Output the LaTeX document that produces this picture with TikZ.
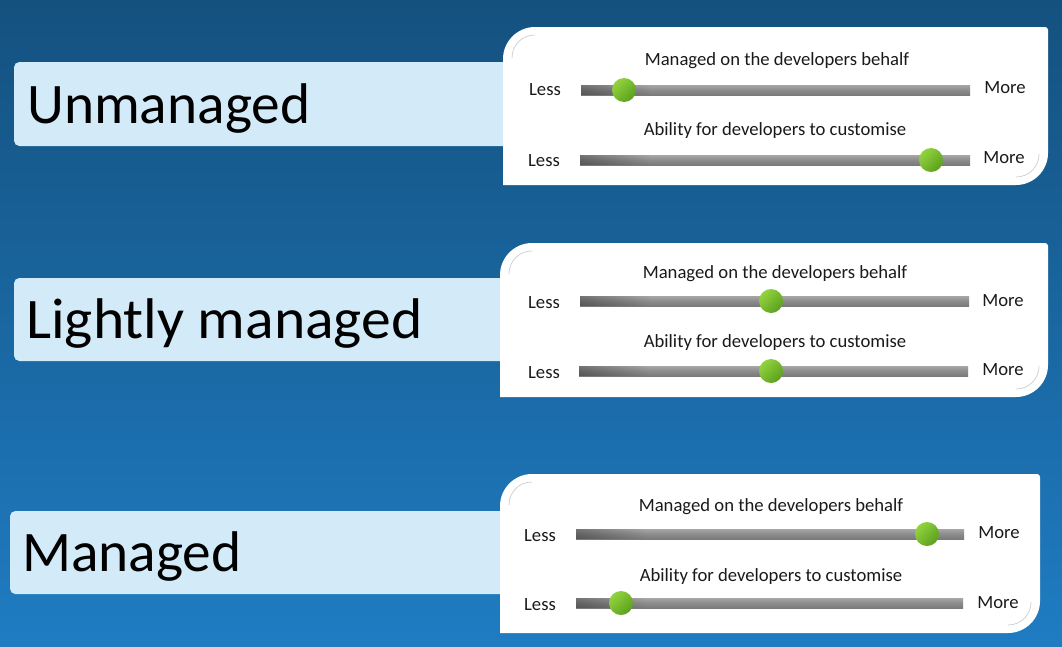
\documentclass[tikz,border=0pt]{standalone}
\usepackage{fontspec}
\setmainfont{Carlito}
\usetikzlibrary{fadings}
\definecolor{bgtop}{HTML}{14517F}
\definecolor{bgbot}{HTML}{1F7CC2}
\definecolor{boxblue}{HTML}{D3EBF8}
\definecolor{barlight}{HTML}{A6A6A6}
\definecolor{barmid}{HTML}{8C8C8C}
\definecolor{bardark}{HTML}{7A7A7A}
\definecolor{knoblight}{HTML}{92D43E}
\definecolor{knobdark}{HTML}{5C9F1E}
\definecolor{arcgray}{HTML}{C5CDD6}
\definecolor{txt}{HTML}{1A1A1A}
\newcommand\mycard[4]{%
  \fill[white] ({#1+32},#2) -- ({#3-3},#2) .. controls ({#3-1.3},#2) and (#3,{#2+1.3}) .. (#3,{#2+3})
    -- (#3,{#4-32}) .. controls (#3,{#4-14.4}) and ({#3-14.4},#4) .. ({#3-32},#4)
    -- (#1,#4) -- (#1,{#2+32}) .. controls (#1,{#2+14.4}) and ({#1+14.4},#2) .. ({#1+32},#2) -- cycle;
  \draw[arcgray, line width=0.5pt] ({#1+9},{#2+31}) .. controls ({#1+9},{#2+18}) and ({#1+19},{#2+8}) .. ({#1+32},{#2+8});
  \draw[arcgray, line width=0.5pt] ({#3-9},{#4-31}) .. controls ({#3-9},{#4-18}) and ({#3-19},{#4-8}) .. ({#3-32},{#4-8});
}
\newcommand\myslider[4]{%
  \shade[top color=barlight, bottom color=bardark, middle color=barmid] (#1,{#3-5}) rectangle (#2,{#3+5});
  \fill[black, opacity=0.3, path fading=east] (#1,{#3-5}) rectangle ({#1+70},{#3+5});
  \shade[top color=knoblight, bottom color=knobdark, shading angle=45] (#4,#3) circle[radius=12];
}
\begin{document}
\begin{tikzpicture}[x=0.75pt,y=-0.75pt,
  biglabel/.style={anchor=base west, inner sep=0pt, font=\fontsize{43}{50}\selectfont, text=black},
  small/.style={anchor=base, inner sep=0pt, font=\fontsize{14}{16}\selectfont, text=txt},
  labelbox/.style={fill=boxblue, rounded corners=4pt}]
\useasboundingbox (0,0) rectangle (1062,646);
\shade[top color=bgtop, bottom color=bgbot] (0,0) rectangle (1062,646);

% label boxes
\fill[labelbox] (14,62) rectangle (510,146);
\fill[labelbox] (14,278) rectangle (510,361);
\fill[labelbox] (10,511) rectangle (510,594);
\node[biglabel] (l1) at (27,123) {Unmanaged};
\node[biglabel, xscale=1.04] (l2) at (26,338) {Lightly managed};
\node[biglabel] (l3) at (22,571) {Managed};

% cards
\mycard{503}{27}{1048}{185}
\mycard{500}{243}{1048}{397}
\mycard{500}{474}{1040}{633}

% card 1
\node[small] (t11) at (777,65) {Managed on the developers behalf};
\node[small] (ls11) at (545,95) {Less};
\node[small] (mo11) at (1005,93) {More};
\myslider{581}{970}{90}{624}
\node[small] (t12) at (775,135) {Ability for developers to customise};
\node[small] (ls12) at (544,166) {Less};
\node[small] (mo12) at (1004,163) {More};
\myslider{580}{970}{160}{931}

% card 2
\node[small] (t21) at (775,278) {Managed on the developers behalf};
\node[small] (ls21) at (544,308) {Less};
\node[small] (mo21) at (1003,306) {More};
\myslider{580}{969}{301}{771}
\node[small] (t22) at (775,347) {Ability for developers to customise};
\node[small] (ls22) at (544,378) {Less};
\node[small] (mo22) at (1003,375) {More};
\myslider{579}{968}{371}{771}

% card 3
\node[small] (t31) at (771,511) {Managed on the developers behalf};
\node[small] (ls31) at (540,541) {Less};
\node[small] (mo31) at (999,538) {More};
\myslider{576}{964}{534}{927}
\node[small] (t32) at (771,581) {Ability for developers to customise};
\node[small] (ls32) at (540,610) {Less};
\node[small] (mo32) at (998,608) {More};
\myslider{576}{963}{603}{621}
\end{tikzpicture}
\end{document}
